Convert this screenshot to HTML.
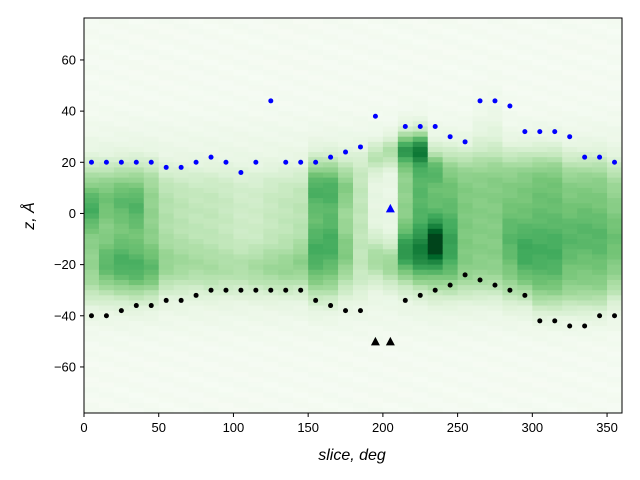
<!DOCTYPE html>
<html><head><meta charset="utf-8"><style>
html,body{margin:0;padding:0;background:#fff;width:640px;height:480px;overflow:hidden}
svg{display:block;font-family:"Liberation Sans","DejaVu Sans",sans-serif}
</style></head><body>
<svg id="s" width="640" height="480" xmlns="http://www.w3.org/2000/svg">
<g id="hm"></g>
<g id="dots"></g>
<rect x="84" y="18" width="538" height="395" fill="none" stroke="#000" stroke-width="1"/>
<g id="ax" font-size="13" fill="#000"></g>
<text x="352" y="460" font-size="16" font-style="italic" text-anchor="middle">slice, deg</text>
<text transform="translate(34,216) rotate(-90)" font-size="16" font-style="italic" text-anchor="middle">z, Å</text>
</svg>
<script>
const X0=84,X1=622,Y0=18,Y1=413,ZT=76.4,ZB=-78;
const xs=v=>X0+(v/360)*(X1-X0);
const ys=z=>Y0+(ZT-z)/(ZT-ZB)*(Y1-Y0);
const cm=[[247,252,245],[229,245,224],[199,233,192],[161,217,155],[116,196,118],[65,171,93],[35,139,69],[0,109,44],[0,68,27]];
function col(t){t=Math.max(0,Math.min(1,t));const f=t*8,i=Math.min(7,Math.floor(f)),r=f-i;const a=cm[i],b=cm[i+1];return `rgb(${a.map((v,k)=>Math.round(v+(b[k]-v)*r)).join(',')})`;}
const C=[
[-32,18,.35,[[2,6,.2]]],
[-32,18,.35,[[-20,6,.15],[5,6,.1]]],
[-32,18,.4,[[-20,6,.15],[5,5,.1]]],
[-32,18,.4,[[-22,6,.15],[3,6,.12]]],
[-32,18,.35,[[-22,6,.15]]],
[-30,16,.25,[[-20,6,.1]]],
[-30,16,.22,[[-20,6,.1]]],
[-30,16,.2,[[-20,6,.1]]],
[-30,16,.2,[[-22,6,.1]]],
[-30,16,.18,[[-22,6,.1]]],
[-30,16,.15,[[-22,6,.12]]],
[-30,16,.15,[[-22,6,.15]]],
[-30,16,.18,[[-22,6,.15]]],
[-30,16,.2,[[-22,6,.15]]],
[-30,16,.22,[[-20,6,.15]]],
[-32,20,.4,[[10,6,.15],[-15,8,.15]]],
[-32,20,.4,[[10,6,.15],[-12,8,.15]]],
[-30,20,.3,[[10,5,.1],[-15,6,.1]]],
[-30,22,.2,[]],
[-30,26,.04,[[-18,6,.25],[22,4,.2]]],
[-30,28,.02,[[-20,6,.3],[24,4,.25]]],
[-28,30,.35,[[25,4,.35],[-15,6,.3]]],
[-28,30,.5,[[25,4,.35],[-15,6,.25]]],
[-30,22,.45,[[-12,6,.55],[18,4,.15]]],
[-30,22,.45,[[-12,8,.15]]],
[-30,22,.4,[]],
[-30,22,.38,[[30,10,.05]]],
[-30,22,.38,[[30,12,.06]]],
[-32,22,.4,[[-10,8,.1]]],
[-32,22,.42,[[-15,8,.15]]],
[-35,22,.45,[[-15,8,.1]]],
[-35,22,.45,[[-15,8,.1]]],
[-35,20,.4,[[-10,8,.1]]],
[-35,20,.4,[[-8,8,.1]]],
[-35,20,.4,[[-10,8,.1]]],
[-32,18,.35,[[-10,8,.1]]]];
const sg=x=>1/(1+Math.exp(-x));
let h='';
for(let i=0;i<36;i++){const [lo,hi,a,b]=C[i];
 for(let z=76;z>-78;z-=2){const zc=z-1;
  let v=0.02;
  v+=a*sg((zc-lo)/3.5)*sg((hi-zc)/3.5);
  v+=0.05*sg((zc+45)/4)*sg((35-zc)/4);
  for(const [c,w,m] of b) v+=m*Math.exp(-((zc-c)**2)/(2*w*w));
  v+=0.012*Math.sin(i*1.7+z*0.9);
  const y0=ys(z),y1=ys(z-2);
  h+=`<rect x="${xs(i*10).toFixed(2)}" y="${y0.toFixed(2)}" width="${(xs(10)-X0+0.5).toFixed(2)}" height="${(y1-y0+0.5).toFixed(2)}" fill="${col(v)}"/>`;}}
document.getElementById('hm').innerHTML=h;
const B=[20,20,20,20,20,18,18,20,22,20,16,20,44,20,20,20,22,24,26,38,null,34,34,34,30,28,44,44,42,32,32,32,30,22,22,20];
const K=[-40,-40,-38,-36,-36,-34,-34,-32,-30,-30,-30,-30,-30,-30,-30,-34,-36,-38,-38,null,null,-34,-32,-30,-28,-24,-26,-28,-30,-32,-42,-42,-44,-44,-40,-40];
let d='';
for(let i=0;i<36;i++){const x=xs(i*10+5);
 if(B[i]!==null)d+=`<circle cx="${x}" cy="${ys(B[i])}" r="2.5" fill="#0000ff"/>`;
 if(K[i]!==null)d+=`<circle cx="${x}" cy="${ys(K[i])}" r="2.5" fill="#000"/>`;}
const tri=(x,y,c)=>`<polygon points="${x-4.5},${y+4} ${x+4.5},${y+4} ${x},${y-4.5}" fill="${c}"/>`;
d+=tri(xs(205),ys(2),'#0000ff')+tri(xs(195),ys(-50),'#000')+tri(xs(205),ys(-50),'#000');
document.getElementById('dots').innerHTML=d;
let a='';
for(let v=0;v<=350;v+=50){const x=xs(v);a+=`<line x1="${x}" y1="413" x2="${x}" y2="417" stroke="#000"/><text x="${x}" y="432" text-anchor="middle">${v}</text>`;}
for(let v=-60;v<=60;v+=20){const y=ys(v);a+=`<line x1="80" y1="${y}" x2="84" y2="${y}" stroke="#000"/><text x="76" y="${y+4.5}" text-anchor="end">${v<0?'−'+(-v):v}</text>`;}
document.getElementById('ax').innerHTML=a;
</script>
</body></html>
